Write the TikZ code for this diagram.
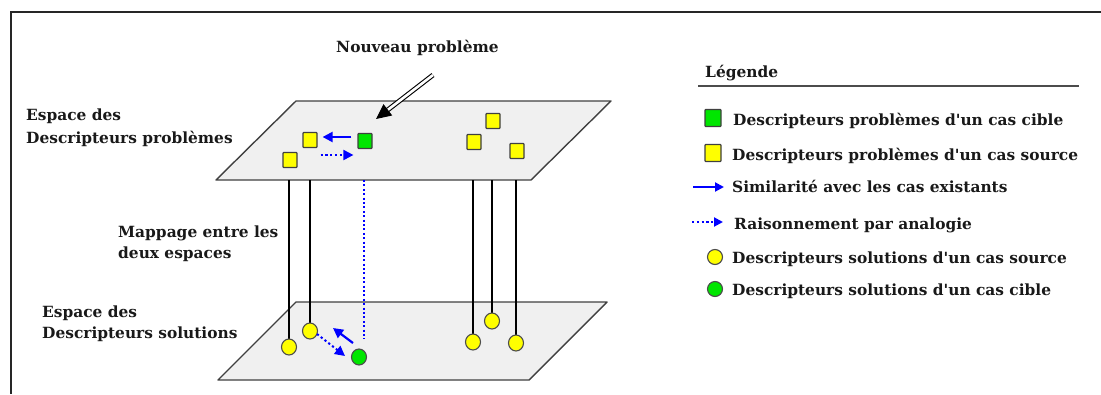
\documentclass[tikz,border=0pt]{standalone}
\usepackage{fontspec}
\setmainfont{DejaVu Serif}
\usetikzlibrary{arrows.meta,shapes.geometric,calc}
\definecolor{planefill}{HTML}{F0F0F0}
\definecolor{planeedge}{HTML}{404040}
\definecolor{ybox}{HTML}{FFFF00}
\definecolor{gbox}{HTML}{00E600}
\definecolor{bl}{HTML}{0000FF}
\newcommand{\apos}{\textquotesingle}
\tikzset{
  lbl/.style={anchor=base west, inner sep=0pt, font=\bfseries\fontsize{15.4}{17}\selectfont, text=black!90},
  plane/.style={fill=planefill, draw=planeedge, line width=1.4pt, line join=round},
  ysq/.style={draw=black!75, line width=1.2pt, fill=ybox, minimum width=14pt, minimum height=15pt, inner sep=0pt, rounded corners=0.8pt},
  gsq/.style={ysq, fill=gbox},
  ydot/.style={ellipse, draw=black!70, line width=1.1pt, fill=ybox, minimum width=15pt, minimum height=16pt, inner sep=0pt},
  gdot/.style={ydot, fill=gbox},
  link/.style={draw=black, line width=1.4pt},
  sim/.style={draw=bl, line width=2.2pt, -{Triangle[length=10pt,width=10pt]}},
  analog/.style={draw=bl, line width=2pt, dash pattern=on 2.2pt off 2.6pt, -{Triangle[length=10pt,width=10pt]}},
  vmap/.style={draw=bl, line width=2pt, dash pattern=on 2pt off 2.4pt},
}
\begin{document}
\begin{tikzpicture}[x=1pt,y=-1pt]
\useasboundingbox (0,0) rectangle (1101,394);
% frame
\draw[line width=2pt, black!85] (1101,12) -- (11,12) -- (11,394);

% planes
\draw[plane] (216,180) -- (531,180) -- (611,101) -- (296,101) -- cycle;
\draw[plane] (218,380) -- (529,380) -- (607,302) -- (296,302) -- cycle;
\coordinate (pe) at (0,180);

% top plane squares
\node[ysq] (ys1) at (310,140) {};
\node[ysq] (ys2) at (290,160) {};
\node[gsq] (gs)  at (365,141) {};
\node[ysq] (ys3) at (493,121) {};
\node[ysq] (ys4) at (474,142) {};
\node[ysq] (ys5) at (517,151) {};

% bottom circles positions
\coordinate (yc1p) at (289,347);
\coordinate (yc2p) at (310,331);
\coordinate (gcp)  at (359,357);
\coordinate (yc3p) at (473,342);
\coordinate (yc4p) at (492,321);
\coordinate (yc5p) at (516,343);

% mapping links
\draw[link] (yc1p |- pe) -- (yc1p);
\draw[link] (yc2p |- pe) -- (yc2p);
\draw[link] (yc3p |- pe) -- (yc3p);
\draw[link] (yc4p |- pe) -- (yc4p);
\draw[link] (yc5p |- pe) -- (yc5p);
\coordinate (vend) at (364,339);
\draw[vmap] (vend |- pe) -- (vend);

% bottom circles
\node[ydot] (yc1) at (yc1p) {};
\node[ydot] (yc2) at (yc2p) {};
\node[gdot] (gc)  at (gcp) {};
\node[ydot] (yc3) at (yc3p) {};
\node[ydot] (yc4) at (yc4p) {};
\node[ydot] (yc5) at (yc5p) {};

% arrows on top plane
\draw[sim] ([xshift=-6pt,yshift=4pt]gs.west) -- ([xshift=5pt,yshift=3pt]ys1.east);
\draw[analog] ([xshift=3pt,yshift=-15pt]ys1.east) -- ([xshift=-4pt,yshift=-14pt]gs.west);
% arrows on bottom plane
\draw[sim] ($(gc)+(-6,-14)$) -- ($(yc2)+(23,-3)$);
\draw[analog] ($(yc2)+(7,3)$) -- ($(gc)+(-14,-1)$);

% Nouveau probleme
\node[lbl] (np) at (336,52) {Nouveau problème};
\coordinate (nps) at (433,75);
\coordinate (npt) at (376,119);
\draw[double=white, double distance=2.6pt, line width=1.1pt, shorten >=11pt] (nps) -- (npt);
\draw[line width=1pt, -{Triangle[length=15pt,width=14pt]}] ($(npt)!14pt!(nps)$) -- (npt);

% side labels
\node[lbl] (l1) at (26,120) {Espace des};
\node[lbl] (l2) at (26,143) {Descripteurs problèmes};
\node[lbl] (l3) at (118,237) {Mappage entre les};
\node[lbl] (l4) at (118,258) {deux espaces};
\node[lbl] (l5) at (42,317) {Espace des};
\node[lbl] (l6) at (42,338) {Descripteurs solutions};

% legend
\node[lbl] (lg) at (705,77) {Légende};
\draw[line width=1.6pt, black!70] (698,86) -- (1079,86);
\node[gsq, minimum width=16pt, minimum height=17pt] (lgs) at (713,118) {};
\node[lbl] (t1) at (733,125) {Descripteurs problèmes d\apos un cas cible};
\node[ysq, minimum width=16pt, minimum height=17pt] (lys) at (713,153) {};
\node[lbl] (t2) at (732,160) {Descripteurs problèmes d\apos un cas source};
\coordinate (a1s) at (693,187);
\coordinate (a1e) at (724,187);
\draw[sim, line width=2pt, -{Triangle[length=9pt,width=9pt]}] (a1s) -- (a1e);
\node[lbl] (t3) at (732,192) {Similarité avec les cas existants};
\coordinate (a2s) at (692,222);
\coordinate (a2e) at (723,222);
\draw[analog, -{Triangle[length=9pt,width=9pt]}] (a2s) -- (a2e);
\node[lbl] (t4) at (734,229) {Raisonnement par analogie};
\node[ydot, minimum width=15pt, minimum height=15pt] (lyc) at (715,257) {};
\node[lbl] (t5) at (732,263) {Descripteurs solutions d\apos un cas source};
\node[gdot, minimum width=15pt, minimum height=15pt] (lgc) at (715,289) {};
\node[lbl] (t6) at (732,295) {Descripteurs solutions d\apos un cas cible};
\end{tikzpicture}
\end{document}
